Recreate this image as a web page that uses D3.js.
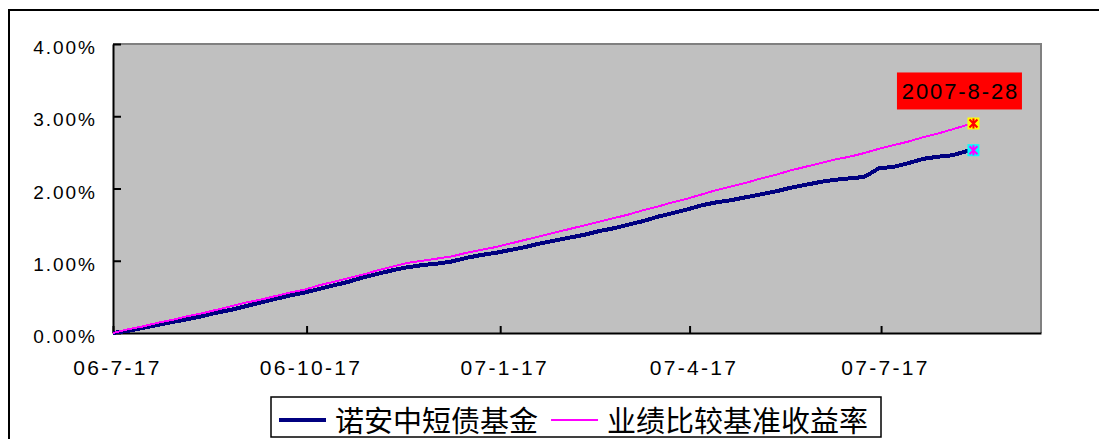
<!DOCTYPE html>
<html>
<head>
<meta charset="utf-8">
<script src="https://cdn.jsdelivr.net/npm/d3@7"></script>
<style>
  html, body { margin: 0; padding: 0; background: #fff; }
  svg { display: block; }
</style>
</head>
<body>
<div id="chart"></div>
<script>
// weekly readings, 2006-07-17 .. 2007-08-28 (percent)
const dates = [
  '2006-07-17','2006-07-24','2006-07-31','2006-08-07','2006-08-14','2006-08-21','2006-08-28',
  '2006-09-04','2006-09-11','2006-09-18','2006-09-25','2006-10-02','2006-10-09','2006-10-16',
  '2006-10-23','2006-10-30','2006-11-06','2006-11-13','2006-11-20','2006-11-27','2006-12-04',
  '2006-12-11','2006-12-18','2006-12-25','2007-01-01','2007-01-08','2007-01-15','2007-01-22',
  '2007-01-29','2007-02-05','2007-02-12','2007-02-19','2007-02-26','2007-03-05','2007-03-12',
  '2007-03-19','2007-03-26','2007-04-02','2007-04-09','2007-04-16','2007-04-23','2007-04-30',
  '2007-05-07','2007-05-14','2007-05-21','2007-05-28','2007-06-04','2007-06-11','2007-06-18',
  '2007-06-25','2007-07-02','2007-07-09','2007-07-16','2007-07-23','2007-07-30','2007-08-06',
  '2007-08-13','2007-08-20','2007-08-27','2007-08-28'
];
const fundValues = [
  0.00,0.03,0.07,0.11,0.15,0.19,0.23,0.28,0.32,0.37,0.42,0.47,0.52,0.56,0.61,0.66,0.71,0.77,
  0.82,0.87,0.91,0.94,0.96,0.99,1.04,1.08,1.11,1.15,1.19,1.24,1.28,1.32,1.36,1.41,1.45,1.50,
  1.55,1.61,1.66,1.71,1.77,1.81,1.84,1.88,1.92,1.96,2.01,2.05,2.09,2.12,2.14,2.16,2.28,2.30,
  2.35,2.41,2.44,2.46,2.52,2.53
];
const benchValues = [
  0.00,0.05,0.09,0.14,0.18,0.23,0.27,0.32,0.37,0.42,0.46,0.51,0.56,0.60,0.66,0.71,0.76,0.81,
  0.87,0.92,0.97,1.00,1.03,1.06,1.11,1.15,1.19,1.24,1.29,1.34,1.39,1.44,1.49,1.54,1.59,1.64,
  1.70,1.75,1.81,1.86,1.92,1.98,2.03,2.08,2.14,2.19,2.25,2.30,2.35,2.40,2.44,2.49,2.55,2.60,
  2.65,2.71,2.76,2.82,2.88,2.90
];
const seriesNames = ['诺安中短债基金', '业绩比较基准收益率'];
const xTickDates = ['2006-07-17', '2006-10-17', '2007-01-17', '2007-04-17', '2007-07-17'];
const yTicks = [0, 1, 2, 3, 4];
const endLabel = '2007-8-28';

const width = 1099, height = 439;
const plot = { left: 113, top: 44, right: 1041, bottom: 333 };
const parse = d3.timeParse('%Y-%m-%d');

const svg = d3.select('#chart').append('svg')
    .attr('width', width)
    .attr('height', height);

// outer frame (runs off the picture on the right and bottom)
svg.append('rect')
    .attr('x', 9).attr('y', 10)
    .attr('width', 1120).attr('height', 460)
    .attr('fill', '#fff')
    .attr('stroke', '#000')
    .attr('stroke-width', 2);

const x = d3.scaleTime()
    .domain([parse('2006-07-17'), parse('2007-10-01')])
    .range([plot.left, plot.right]);
const y = d3.scaleLinear()
    .domain([0, 4])
    .range([plot.bottom, plot.top]);

// plot area
svg.append('rect')
    .attr('x', plot.left).attr('y', plot.top)
    .attr('width', plot.right - plot.left).attr('height', plot.bottom - plot.top)
    .attr('fill', '#c0c0c0');
svg.append('path')
    .attr('d', `M${plot.left},${plot.top}H${plot.right}V${plot.bottom}`)
    .attr('fill', 'none')
    .attr('stroke', '#808080')
    .attr('stroke-width', 2);

// axes
const yAxis = svg.append('g')
    .attr('transform', `translate(${plot.left},0)`)
    .call(d3.axisLeft(y).tickValues(yTicks).tickSizeInner(-8).tickSizeOuter(0)
        .tickFormat(d => d3.format('.2f')(d) + '%'));
yAxis.select('.domain').attr('stroke', '#000').attr('stroke-width', 2);
yAxis.selectAll('.tick line').attr('stroke', '#000').attr('stroke-width', 2);
yAxis.selectAll('.tick text')
    .attr('x', -16).attr('dy', null).attr('y', 9.5)
    .attr('font-family', '"Liberation Sans", Arial, sans-serif')
    .attr('font-size', 19)
    .attr('letter-spacing', 2)
    .attr('fill', '#000');

const xAxis = svg.append('g')
    .attr('transform', `translate(0,${plot.bottom})`)
    .call(d3.axisBottom(x).tickValues(xTickDates.map(parse)).tickSizeInner(-7).tickSizeOuter(0)
        .tickFormat(d3.timeFormat('%y-%-m-%d')));
xAxis.select('.domain').attr('stroke', '#000').attr('stroke-width', 2);
xAxis.selectAll('.tick line').attr('stroke', '#000').attr('stroke-width', 2);
xAxis.selectAll('.tick text')
    .attr('x', 4).attr('dy', null).attr('y', 42)
    .attr('font-family', '"Liberation Sans", Arial, sans-serif')
    .attr('font-size', 21)
    .attr('letter-spacing', 2.3)
    .attr('fill', '#000');

// lines
const fund = dates.map((d, i) => ({ date: parse(d), value: fundValues[i] }));
const bench = dates.map((d, i) => ({ date: parse(d), value: benchValues[i] }));
const line = d3.line()
    .x(d => x(d.date))
    .y(d => y(d.value));

svg.append('path')
    .datum(fund)
    .attr('d', line)
    .attr('fill', 'none')
    .attr('stroke', '#000080')
    .attr('stroke-width', 4)
    .attr('shape-rendering', 'crispEdges');
svg.append('path')
    .datum(bench)
    .attr('d', line)
    .attr('fill', 'none')
    .attr('stroke', '#ff00ff')
    .attr('stroke-width', 2)
    .attr('shape-rendering', 'crispEdges');

// end markers
function marker(p, fill, star) {
    const cx = x(p.date) + 4, cy = y(p.value);
    svg.append('rect')
        .attr('x', cx - 6).attr('y', cy - 6)
        .attr('width', 12).attr('height', 12)
        .attr('fill', fill);
    svg.append('path')
        .attr('d', `M${cx - 4},${cy - 4}L${cx + 4},${cy + 4}M${cx - 4},${cy + 4}L${cx + 4},${cy - 4}M${cx},${cy - 5}V${cy + 5}`)
        .attr('stroke', star)
        .attr('stroke-width', 2);
}
const lastBench = bench[bench.length - 1];
const lastFund = fund[fund.length - 1];
marker(lastBench, '#ffff00', '#ff0000');
marker(lastFund, '#00ffff', '#ff00ff');

// date label over the last point
const lx = x(lastBench.date) - 10, ly = y(lastBench.value) - 14;
svg.append('rect')
    .attr('x', lx - 62.5).attr('y', ly - 37)
    .attr('width', 125).attr('height', 37)
    .attr('fill', '#ff0000');
svg.append('text')
    .attr('x', lx + 1).attr('y', ly - 10)
    .attr('text-anchor', 'middle')
    .attr('font-family', '"Liberation Sans", Arial, sans-serif')
    .attr('font-size', 22)
    .attr('letter-spacing', 1.9)
    .attr('fill', '#000')
    .text(endLabel);

// legend
const legend = svg.append('g');
legend.append('rect')
    .attr('x', 271).attr('y', 397)
    .attr('width', 610).attr('height', 40)
    .attr('fill', '#fff')
    .attr('stroke', '#000')
    .attr('stroke-width', 1.5);
const swatch = [
    { color: '#000080', w: 4 },
    { color: '#ff00ff', w: 2 }
];
let cursor = 279;
seriesNames.forEach((name, i) => {
    legend.append('line')
        .attr('x1', cursor).attr('x2', cursor + 47)
        .attr('y1', 420).attr('y2', 420)
        .attr('stroke', swatch[i].color)
        .attr('stroke-width', swatch[i].w);
    const t = legend.append('text')
        .attr('x', cursor + 56).attr('y', 419)
        .attr('dominant-baseline', 'central')
        .attr('font-family', '"Noto Sans CJK SC", sans-serif')
        .attr('font-size', 29)
        .attr('fill', '#000')
        .text(name);
    cursor += 56 + t.node().getComputedTextLength() + 13;
});
</script>
</body>
</html>
